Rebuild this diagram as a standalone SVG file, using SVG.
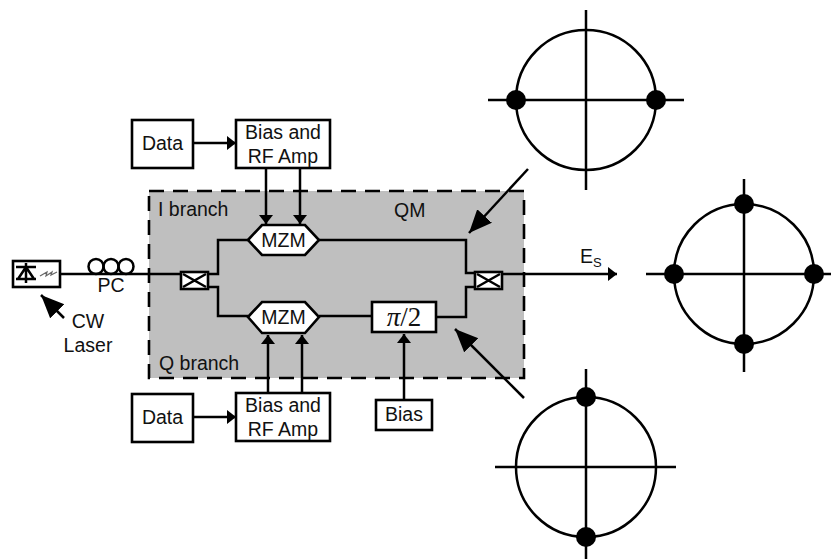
<svg xmlns="http://www.w3.org/2000/svg" width="831" height="559" viewBox="0 0 831 559">
<style>
text{font-family:"Liberation Sans",Arial,sans-serif;font-size:19.5px;fill:#111}
.m{text-anchor:middle}
.b{fill:#fff;stroke:#000;stroke-width:2.6}
.l{fill:none;stroke:#000;stroke-width:2.5}
.c{fill:none;stroke:#000;stroke-width:2.5}
.d{fill:#000}
</style>
<defs>
<marker id="a" markerUnits="userSpaceOnUse" markerWidth="12" markerHeight="14" refX="9" refY="7" orient="auto"><path d="M0 0L9 7L0 14Z" fill="#000"/></marker>
<marker id="big" markerUnits="userSpaceOnUse" markerWidth="26" markerHeight="26" refX="23" refY="10" orient="auto"><path d="M0 0L23 10L0 20Z" fill="#000"/></marker>
</defs>
<g id="qm-box"><rect x="149" y="191" width="375" height="187" fill="#bfbfbf" stroke="#000" stroke-width="2.6" stroke-dasharray="15 9"/>
<text x="158" y="216">I branch</text><text x="394" y="217">QM</text><text x="159" y="370">Q branch</text></g>
<g id="connectors">
<path class="l" d="M60 274H181"/>
<path class="l" d="M208 274H218V240H248"/>
<path class="l" d="M208 287H218V316H248"/>
<path class="l" d="M319 240H466V273H475"/>
<path class="l" d="M319 316H372"/>
<path class="l" d="M436 317H466V287H475"/>
<path class="l" d="M502 274H617" marker-end="url(#a)"/>
<path class="l" d="M193 143H236" marker-end="url(#a)"/>
<path class="l" d="M193 417H236" marker-end="url(#a)"/>
<path class="l" d="M266 169V224" marker-end="url(#a)"/>
<path class="l" d="M300 169V224" marker-end="url(#a)"/>
<path class="l" d="M268 392V335" marker-end="url(#a)"/>
<path class="l" d="M302 392V335" marker-end="url(#a)"/>
<path class="l" d="M404 400V334" marker-end="url(#a)"/>
<path class="l" d="M64 318L41 295" marker-end="url(#big)"/>
<path class="l" d="M528 169L469 233" marker-end="url(#big)"/>
<path class="l" d="M524 398L455 329" marker-end="url(#big)"/>
</g>
<g id="laser"><rect class="b" x="13" y="261" width="47" height="26"/>
<path class="l" d="M16 267H36M16 279H36M26 263V283M26 267L18 279M26 267L34 279"/>
<path d="M40 276L47 272L46 276L52 272L51 275L57 272" fill="none" stroke="#666" stroke-width="1.2"/></g>
<g id="pc"><circle class="c" cx="96" cy="266.500" r="7.500"/><circle class="c" cx="111" cy="266.500" r="7.500"/><circle class="c" cx="126" cy="266.500" r="7.500"/>
<text class="m" x="111" y="292">PC</text></g>
<text id="cw-laser" class="m" x="88" y="328">CW<tspan x="88" dy="24">Laser</tspan></text>
<g id="coupler-in"><rect class="b" x="181" y="272" width="27" height="17"/><path class="l" d="M183 274L206 287M206 274L183 287"/></g>
<g id="coupler-out"><rect class="b" x="475" y="272" width="27" height="17"/><path class="l" d="M477 274L500 287M500 274L477 287"/></g>
<g id="data-top"><rect class="b" x="132" y="120" width="61" height="48"/><text class="m" x="162.500" y="150">Data</text></g>
<g id="amp-top"><rect class="b" x="236" y="120" width="94" height="48"/><text class="m" x="283" y="139">Bias and</text><text class="m" x="283" y="163">RF Amp</text></g>
<g id="data-bottom"><rect class="b" x="132" y="394" width="61" height="48"/><text class="m" x="162.500" y="424">Data</text></g>
<g id="amp-bottom"><rect class="b" x="236" y="393" width="94" height="48"/><text class="m" x="283" y="412">Bias and</text><text class="m" x="283" y="436">RF Amp</text></g>
<g id="mzm-top"><path class="b" d="M248 240L262 225H305L319 240L305 255H262Z"/><text class="m" x="283.500" y="247">MZM</text></g>
<g id="mzm-bottom"><path class="b" d="M248 317L262 302H305L319 317L305 333H262Z"/><text class="m" x="283.500" y="324">MZM</text></g>
<g id="phase"><rect class="b" x="372" y="302" width="64" height="30"/><text class="m" x="404" y="326" style="font-family:'Liberation Serif',serif;font-size:27px"><tspan font-style="italic">π</tspan>/2</text></g>
<g id="bias"><rect class="b" x="376" y="400" width="56" height="30"/><text class="m" x="404" y="421">Bias</text></g>
<text id="es" x="580" y="263">E<tspan font-size="13" dy="4">S</tspan></text>
<g id="constellation-top"><circle class="c" cx="586" cy="100" r="70"/><path class="c" d="M488 100H684M586 10V190"/><circle class="d" cx="516" cy="100" r="10"/><circle class="d" cx="656" cy="100" r="10"/></g>
<g id="constellation-right"><circle class="c" cx="744" cy="274" r="70"/><path class="c" d="M646 274H831M744 179V372"/><circle class="d" cx="674" cy="274" r="10"/><circle class="d" cx="814" cy="274" r="10"/><circle class="d" cx="744" cy="204" r="10"/><circle class="d" cx="744" cy="344" r="10"/></g>
<g id="constellation-bottom"><circle class="c" cx="586" cy="467" r="70"/><path class="c" d="M495 467H676M586 369V559"/><circle class="d" cx="586" cy="397" r="10"/><circle class="d" cx="586" cy="537" r="10"/></g>
</svg>
